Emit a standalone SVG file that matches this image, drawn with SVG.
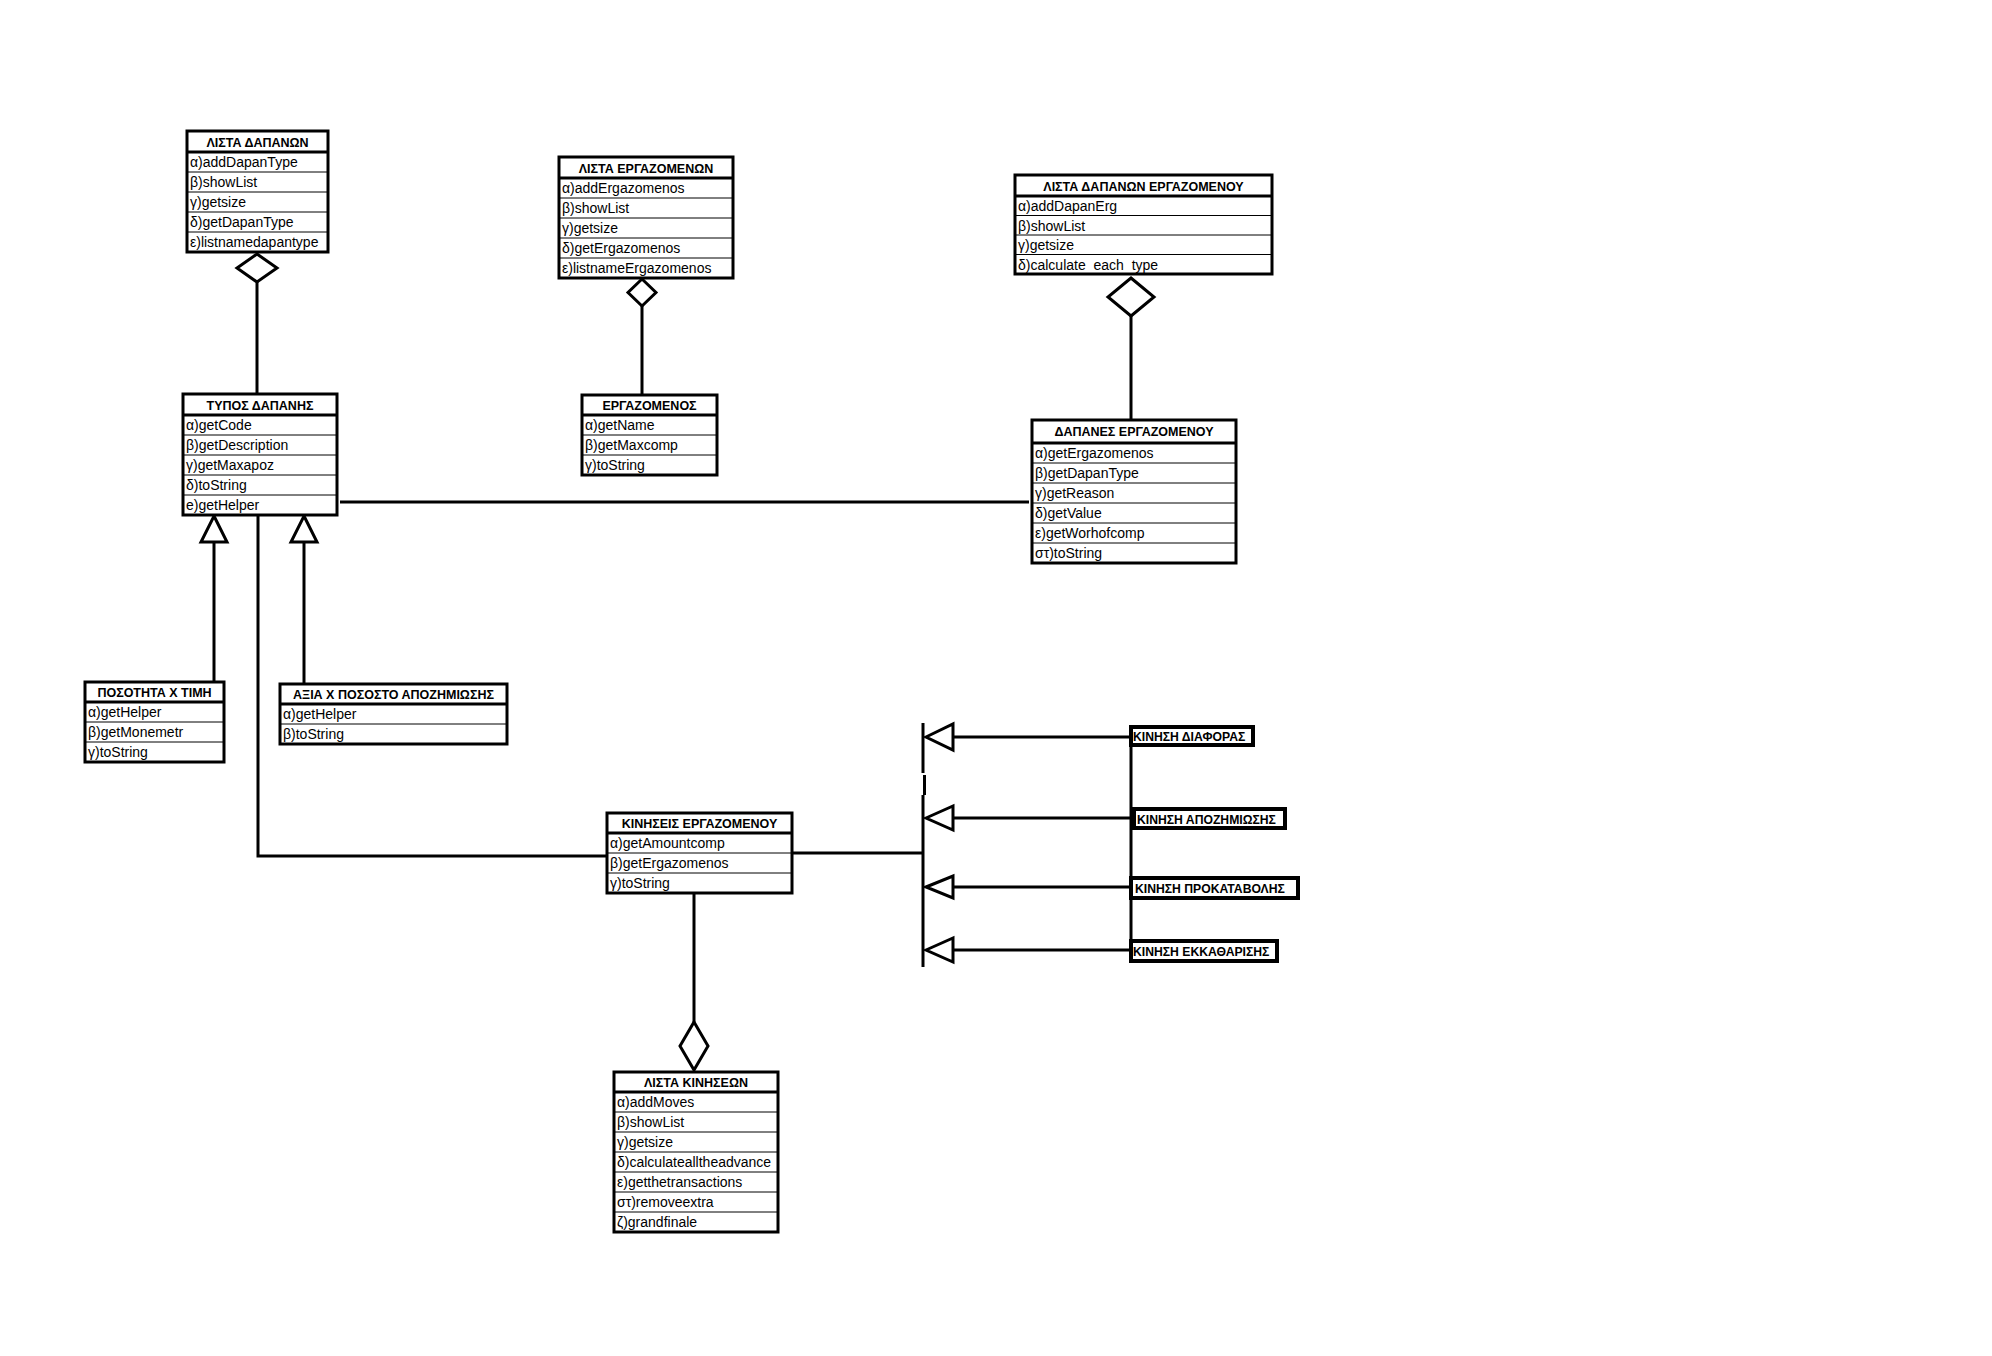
<svg xmlns="http://www.w3.org/2000/svg" width="1992" height="1356" viewBox="0 0 1992 1356">
  <defs>
    <style>
      .frame { fill: #fff; stroke: #000; stroke-width: 3; }
      .hline { stroke: #000; stroke-width: 3; }
      .sep { stroke: #000; stroke-width: 1; }
      .h { font-family: "Liberation Sans", Arial, sans-serif; font-weight: bold; font-size: 12.5px; text-anchor: middle; fill: #000; }
      .r { font-family: "Liberation Sans", Arial, sans-serif; font-size: 14px; fill: #000; white-space: pre; }
      .tag { fill: #fff; stroke: #000; stroke-width: 4; }
      .t { font-family: "Liberation Sans", Arial, sans-serif; font-weight: bold; font-size: 12.2px; fill: #000; }
      .conn { stroke: #000; stroke-width: 3; fill: none; }
      .open { fill: #fff; stroke: #000; stroke-width: 3; stroke-linejoin: miter; }
    </style>
  </defs>
  <rect width="1992" height="1356" fill="#fff"/>

  <g id="connectors">
    <!-- aggregation: ΛΙΣΤΑ ΔΑΠΑΝΩΝ - ΤΥΠΟΣ ΔΑΠΑΝΗΣ -->
    <line class="conn" x1="257" y1="282" x2="257" y2="394"/>
    <polygon class="open" points="257,254 277,268 257,282 237,268"/>
    <!-- aggregation: ΛΙΣΤΑ ΕΡΓΑΖΟΜΕΝΩΝ - ΕΡΓΑΖΟΜΕΝΟΣ -->
    <line class="conn" x1="642" y1="306" x2="642" y2="395"/>
    <polygon class="open" points="642,279 656,292.5 642,306 628,292.5"/>
    <!-- aggregation: ΛΙΣΤΑ ΔΑΠΑΝΩΝ ΕΡΓΑΖΟΜΕΝΟΥ - ΔΑΠΑΝΕΣ ΕΡΓΑΖΟΜΕΝΟΥ -->
    <line class="conn" x1="1131" y1="316" x2="1131" y2="420"/>
    <polygon class="open" points="1131,278 1154,297 1131,316 1108,297"/>
    <!-- association: ΤΥΠΟΣ ΔΑΠΑΝΗΣ - ΔΑΠΑΝΕΣ ΕΡΓΑΖΟΜΕΝΟΥ -->
    <line class="conn" x1="340" y1="502" x2="1029" y2="502"/>
    <!-- generalisation: subclasses of ΤΥΠΟΣ ΔΑΠΑΝΗΣ -->
    <line class="conn" x1="214" y1="542" x2="214" y2="682"/>
    <polygon class="open" points="214,516 227,542 201,542"/>
    <line class="conn" x1="304" y1="542" x2="304" y2="684"/>
    <polygon class="open" points="304,516 317,542 291,542"/>
    <!-- association: ΤΥΠΟΣ ΔΑΠΑΝΗΣ - ΚΙΝΗΣΕΙΣ ΕΡΓΑΖΟΜΕΝΟΥ -->
    <polyline class="conn" points="258,515 258,856 607,856"/>
    <!-- aggregation: ΚΙΝΗΣΕΙΣ ΕΡΓΑΖΟΜΕΝΟΥ - ΛΙΣΤΑ ΚΙΝΗΣΕΩΝ -->
    <line class="conn" x1="694" y1="894" x2="694" y2="1022"/>
    <polygon class="open" points="694,1022 708,1046 694,1070 680,1046"/>
    <!-- generalisation bus: movement kinds -->
    <line class="conn" x1="792" y1="853" x2="923" y2="853"/>
    <line class="conn" x1="923" y1="723" x2="923" y2="773"/>
    <line class="conn" x1="924.5" y1="775" x2="924.5" y2="795"/>
    <line class="conn" x1="923" y1="795" x2="923" y2="967"/>
    <line class="conn" x1="1131" y1="729" x2="1131" y2="960"/>
    <line class="conn" x1="953" y1="737" x2="1131" y2="737"/>
    <polygon class="open" points="926,737 953,724 953,750"/>
    <line class="conn" x1="953" y1="818" x2="1133" y2="818"/>
    <polygon class="open" points="926,818 953,806 953,830"/>
    <line class="conn" x1="953" y1="887" x2="1131" y2="887"/>
    <polygon class="open" points="926,887 953,876 953,898"/>
    <line class="conn" x1="953" y1="950" x2="1131" y2="950"/>
    <polygon class="open" points="926,950 953,938 953,962"/>
  </g>

  <g id="lista-dapanon">
    <rect class="frame" x="187" y="131" width="141" height="121"/>
    <line class="hline" x1="187" y1="152" x2="328" y2="152"/>
    <line class="sep" x1="187" y1="172" x2="328" y2="172"/>
    <line class="sep" x1="187" y1="192" x2="328" y2="192"/>
    <line class="sep" x1="187" y1="212" x2="328" y2="212"/>
    <line class="sep" x1="187" y1="232" x2="328" y2="232"/>
    <text class="h" x="257.5" y="146.5">ΛΙΣΤΑ ΔΑΠΑΝΩΝ</text>
    <text class="r" x="190" y="167">α)addDapanType</text>
    <text class="r" x="190" y="187">β)showList</text>
    <text class="r" x="190" y="207">γ)getsize</text>
    <text class="r" x="190" y="227">δ)getDapanType</text>
    <text class="r" x="190" y="247">ε)listnamedapantype</text>
  </g>

  <g id="lista-ergazomenon">
    <rect class="frame" x="559" y="157" width="174" height="121"/>
    <line class="hline" x1="559" y1="178" x2="733" y2="178"/>
    <line class="sep" x1="559" y1="198" x2="733" y2="198"/>
    <line class="sep" x1="559" y1="218" x2="733" y2="218"/>
    <line class="sep" x1="559" y1="238" x2="733" y2="238"/>
    <line class="sep" x1="559" y1="258" x2="733" y2="258"/>
    <text class="h" x="646" y="172.5">ΛΙΣΤΑ ΕΡΓΑΖΟΜΕΝΩΝ</text>
    <text class="r" x="562" y="193">α)addErgazomenos</text>
    <text class="r" x="562" y="213">β)showList</text>
    <text class="r" x="562" y="233">γ)getsize</text>
    <text class="r" x="562" y="253">δ)getErgazomenos</text>
    <text class="r" x="562" y="273">ε)listnameErgazomenos</text>
  </g>

  <g id="lista-dapanon-ergazomenou">
    <rect class="frame" x="1015" y="175" width="257" height="99"/>
    <line class="hline" x1="1015" y1="196" x2="1272" y2="196"/>
    <line class="sep" x1="1015" y1="215.5" x2="1272" y2="215.5"/>
    <line class="sep" x1="1015" y1="235" x2="1272" y2="235"/>
    <line class="sep" x1="1015" y1="254.5" x2="1272" y2="254.5"/>
    <text class="h" x="1143.5" y="190.5">ΛΙΣΤΑ ΔΑΠΑΝΩΝ ΕΡΓΑΖΟΜΕΝΟΥ</text>
    <text class="r" x="1018" y="211">α)addDapanErg</text>
    <text class="r" x="1018" y="230.5">β)showList</text>
    <text class="r" x="1018" y="250">γ)getsize</text>
    <text class="r" x="1018" y="269.5">δ)calculate  each  type</text>
  </g>

  <g id="typos-dapanis">
    <rect class="frame" x="183" y="394" width="154" height="121"/>
    <line class="hline" x1="183" y1="415" x2="337" y2="415"/>
    <line class="sep" x1="183" y1="435" x2="337" y2="435"/>
    <line class="sep" x1="183" y1="455" x2="337" y2="455"/>
    <line class="sep" x1="183" y1="475" x2="337" y2="475"/>
    <line class="sep" x1="183" y1="495" x2="337" y2="495"/>
    <text class="h" x="260" y="409.5">ΤΥΠΟΣ ΔΑΠΑΝΗΣ</text>
    <text class="r" x="186" y="430">α)getCode</text>
    <text class="r" x="186" y="450">β)getDescription</text>
    <text class="r" x="186" y="470">γ)getMaxapoz</text>
    <text class="r" x="186" y="490">δ)toString</text>
    <text class="r" x="186" y="510">e)getHelper</text>
  </g>

  <g id="ergazomenos">
    <rect class="frame" x="582" y="395" width="135" height="80"/>
    <line class="hline" x1="582" y1="415" x2="717" y2="415"/>
    <line class="sep" x1="582" y1="435" x2="717" y2="435"/>
    <line class="sep" x1="582" y1="455" x2="717" y2="455"/>
    <text class="h" x="649.5" y="409.5">ΕΡΓΑΖΟΜΕΝΟΣ</text>
    <text class="r" x="585" y="430">α)getName</text>
    <text class="r" x="585" y="450">β)getMaxcomp</text>
    <text class="r" x="585" y="470">γ)toString</text>
  </g>

  <g id="dapanes-ergazomenou">
    <rect class="frame" x="1032" y="420" width="204" height="143"/>
    <line class="hline" x1="1032" y1="443" x2="1236" y2="443"/>
    <line class="sep" x1="1032" y1="463" x2="1236" y2="463"/>
    <line class="sep" x1="1032" y1="483" x2="1236" y2="483"/>
    <line class="sep" x1="1032" y1="503" x2="1236" y2="503"/>
    <line class="sep" x1="1032" y1="523" x2="1236" y2="523"/>
    <line class="sep" x1="1032" y1="543" x2="1236" y2="543"/>
    <text class="h" x="1134" y="436">ΔΑΠΑΝΕΣ ΕΡΓΑΖΟΜΕΝΟΥ</text>
    <text class="r" x="1035" y="458">α)getErgazomenos</text>
    <text class="r" x="1035" y="478">β)getDapanType</text>
    <text class="r" x="1035" y="498">γ)getReason</text>
    <text class="r" x="1035" y="518">δ)getValue</text>
    <text class="r" x="1035" y="538">ε)getWorhofcomp</text>
    <text class="r" x="1035" y="558">στ)toString</text>
  </g>

  <g id="posotita-x-timi">
    <rect class="frame" x="85" y="682" width="139" height="80"/>
    <line class="hline" x1="85" y1="702" x2="224" y2="702"/>
    <line class="sep" x1="85" y1="722" x2="224" y2="722"/>
    <line class="sep" x1="85" y1="742" x2="224" y2="742"/>
    <text class="h" x="154.5" y="696.5">ΠΟΣΟΤΗΤΑ Χ ΤΙΜΗ</text>
    <text class="r" x="88" y="717">α)getHelper</text>
    <text class="r" x="88" y="737">β)getMonemetr</text>
    <text class="r" x="88" y="757">γ)toString</text>
  </g>

  <g id="axia-x-pososto">
    <rect class="frame" x="280" y="684" width="227" height="60"/>
    <line class="hline" x1="280" y1="704" x2="507" y2="704"/>
    <line class="sep" x1="280" y1="724" x2="507" y2="724"/>
    <text class="h" x="393.5" y="698.5">ΑΞΙΑ Χ ΠΟΣΟΣΤΟ ΑΠΟΖΗΜΙΩΣΗΣ</text>
    <text class="r" x="283" y="719">α)getHelper</text>
    <text class="r" x="283" y="739">β)toString</text>
  </g>

  <g id="kiniseis-ergazomenou">
    <rect class="frame" x="607" y="813" width="185" height="80"/>
    <line class="hline" x1="607" y1="833" x2="792" y2="833"/>
    <line class="sep" x1="607" y1="853" x2="792" y2="853"/>
    <line class="sep" x1="607" y1="873" x2="792" y2="873"/>
    <text class="h" x="699.5" y="827.5">ΚΙΝΗΣΕΙΣ ΕΡΓΑΖΟΜΕΝΟΥ</text>
    <text class="r" x="610" y="848">α)getAmountcomp</text>
    <text class="r" x="610" y="868">β)getErgazomenos</text>
    <text class="r" x="610" y="888">γ)toString</text>
  </g>

  <g id="lista-kiniseon">
    <rect class="frame" x="614" y="1072" width="164" height="160"/>
    <line class="hline" x1="614" y1="1092" x2="778" y2="1092"/>
    <line class="sep" x1="614" y1="1112" x2="778" y2="1112"/>
    <line class="sep" x1="614" y1="1132" x2="778" y2="1132"/>
    <line class="sep" x1="614" y1="1152" x2="778" y2="1152"/>
    <line class="sep" x1="614" y1="1172" x2="778" y2="1172"/>
    <line class="sep" x1="614" y1="1192" x2="778" y2="1192"/>
    <line class="sep" x1="614" y1="1212" x2="778" y2="1212"/>
    <text class="h" x="696" y="1086.5">ΛΙΣΤΑ ΚΙΝΗΣΕΩΝ</text>
    <text class="r" x="617" y="1107">α)addMoves</text>
    <text class="r" x="617" y="1127">β)showList</text>
    <text class="r" x="617" y="1147">γ)getsize</text>
    <text class="r" x="617" y="1167">δ)calculatealltheadvance</text>
    <text class="r" x="617" y="1187">ε)getthetransactions</text>
    <text class="r" x="617" y="1207">στ)removeextra</text>
    <text class="r" x="617" y="1227">ζ)grandfinale</text>
  </g>

  <g id="kinisi-diaforas">
    <rect class="tag" x="1131" y="727" width="122" height="18"/>
    <text class="t" x="1133" y="741">ΚΙΝΗΣΗ ΔΙΑΦΟΡΑΣ</text>
  </g>
  <g id="kinisi-apozimiosis">
    <rect class="tag" x="1134" y="809" width="151" height="19"/>
    <text class="t" x="1137" y="823.5">ΚΙΝΗΣΗ ΑΠΟΖΗΜΙΩΣΗΣ</text>
  </g>
  <g id="kinisi-prokatavolis">
    <rect class="tag" x="1131" y="878" width="167" height="20"/>
    <text class="t" x="1135" y="893">ΚΙΝΗΣΗ ΠΡΟΚΑΤΑΒΟΛΗΣ</text>
  </g>
  <g id="kinisi-ekkatharisis">
    <rect class="tag" x="1131" y="941" width="146" height="20"/>
    <text class="t" x="1133" y="956">ΚΙΝΗΣΗ ΕΚΚΑΘΑΡΙΣΗΣ</text>
  </g>
</svg>
